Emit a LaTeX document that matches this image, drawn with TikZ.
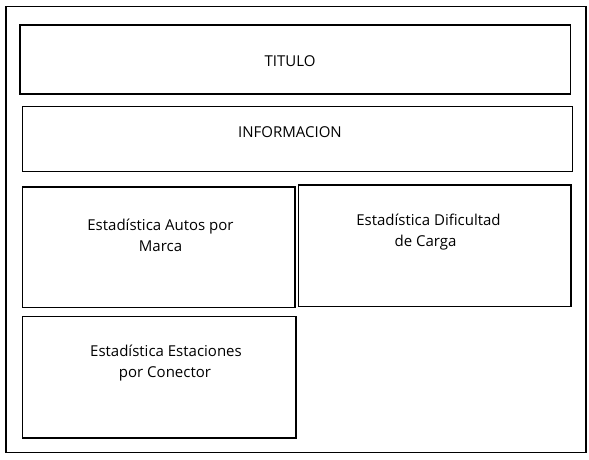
\documentclass[tikz,border=0pt]{standalone}
\usepackage{fontspec}
\setmainfont{Open Sans}
\begin{document}
\begin{tikzpicture}[x=1pt,y=-1pt,
  frame/.style={draw=black,line width=1.3pt},
  lbl/.style={anchor=base,inner sep=0pt,font=\fontsize{15}{18}\selectfont,text=black}]
\useasboundingbox (0,0) rectangle (589,459);
\draw[frame] (6,6.5) rectangle (586,452.5);
\draw[frame] (20,25) rectangle (570.5,94);
\draw[frame] (22.5,106.5) rectangle (572.5,171.5);
\draw[frame] (22.5,187) rectangle (295,307.5);
\draw[frame] (298.5,185) rectangle (571,306.5);
\draw[frame] (22.5,316.5) rectangle (296,438);
\node[lbl] (titulo) at (290,66) {TITULO};
\node[lbl] (info) at (290,137.7) {INFORMACION};
\node[lbl] (autosA) at (160.5,230) {Estadística Autos por};
\node[lbl] (autosB) at (160.5,251) {Marca};
\node[lbl] (difA) at (428.5,225) {Estadística Dificultad};
\node[lbl] (difB) at (425.5,246) {de Carga};
\node[lbl] (estA) at (166,356.7) {Estadística Estaciones};
\node[lbl] (estB) at (165,377) {por Conector};
\end{tikzpicture}
\end{document}
